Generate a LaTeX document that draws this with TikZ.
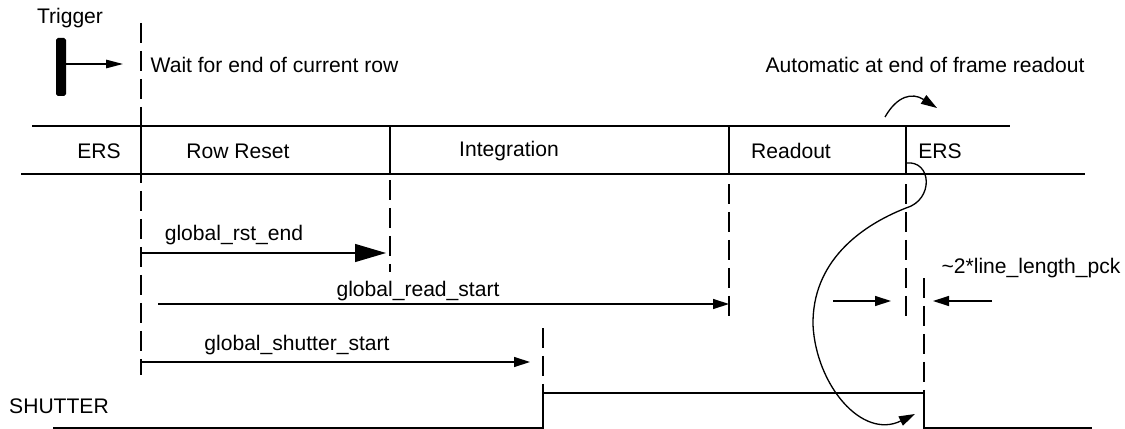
\documentclass[tikz,border=0pt]{standalone}
\usepackage{fontspec}
\setmainfont{Liberation Sans}
\usetikzlibrary{arrows.meta}
\begin{document}
\begin{tikzpicture}[x=0.02cm,y=-0.02cm,line width=0.75pt,
 lbl/.style={font=\fontsize{12}{14}\selectfont,inner sep=0pt},
 dsh/.style={dash pattern=on 0.4cm off 0.16cm},
 tip/.style={-{Triangle[length=0.32cm,width=0.2cm]}}]
\useasboundingbox (0,0) rectangle (1125,429);
% trigger and wait
\fill[rounded corners=1pt] (56,38) rectangle (66,96);
\coordinate (trg) at (66,64);\coordinate (trgend) at (123,64);
\node[lbl](trigger)at(70,18){Trigger};
\node[lbl,anchor=west](wait)at(150,65){Wait for end of current row};
\draw[-{Triangle[length=0.34cm,width=0.17cm]}](trg)--(trgend);
\node[lbl](auto)at(925,65){Automatic at end of frame readout};
\coordinate (a0) at (885,117);\coordinate (a1) at (937,108);
\draw[tip](a0) .. controls (897,96) and (912,92) .. (a1);
% row states
\draw(32,126)--(1010,126);
\draw(21,174)--(1085,174);
\foreach \x in {141,390,729,906} \draw(\x,126)--(\x,174);
\node[lbl](ers)at(99,151){ERS};
\node[lbl](rowrst)at(238,151){Row Reset};
\node[lbl](integ)at(509,151){Integration};
\node[lbl](readout)at(791,151){Readout};
\node[lbl](ers2)at(940,151){ERS};
% markers
\coordinate (t0) at (141,23);\coordinate (t0b) at (141,375);
\coordinate (r0) at (390,180);\coordinate (r0b) at (390,272);
\coordinate (g0) at (729,184);\coordinate (g0b) at (729,320);
\coordinate (e0) at (906,184);\coordinate (e0b) at (906,320);
\coordinate (e1) at (924,278);\coordinate (e1b) at (924,393);
\coordinate (s0) at (543,328);\coordinate (s0b) at (543,393);
\draw[dsh](t0)--(t0b);\draw[dsh](r0)--(r0b);\draw[dsh](g0)--(g0b);
\draw[dsh](e0)--(e0b);\draw[dsh](e1)--(e1b);\draw[dsh](s0)--(s0b);
% counters
\node[lbl](rstlbl)at(234,235){global\_rst\_end};
\draw[-{Triangle[length=0.62cm,width=0.36cm]}](141,253)--(386,253);
\node[lbl](readlbl)at(418,291){global\_read\_start};
\draw[tip](158,304)--(729,304);
\node[lbl](shutlbl)at(297,345){global\_shutter\_start};
\draw[tip](141,362)--(530,362);
\node[lbl](pck)at(1031,268){\textasciitilde2*line\_length\_pck};
\draw[tip](833,301)--(891,301);\draw[tip](992,301)--(933,301);
% shutter
\node[lbl](shutter)at(59,406){SHUTTER};
\draw(53,428)--(s0b|-0,428)--(s0b)--(e1b)--(e1b|-0,428)--(1092,428);
\coordinate (c0) at (906,163);\coordinate (c1) at (915,414);
\draw[tip](c0) .. controls (932,160) and (934,200) .. (906,208)
 .. controls (860,226) and (812,262) .. (813,325)
 .. controls (816,385) and (862,440) .. (c1);
\end{tikzpicture}
\end{document}
